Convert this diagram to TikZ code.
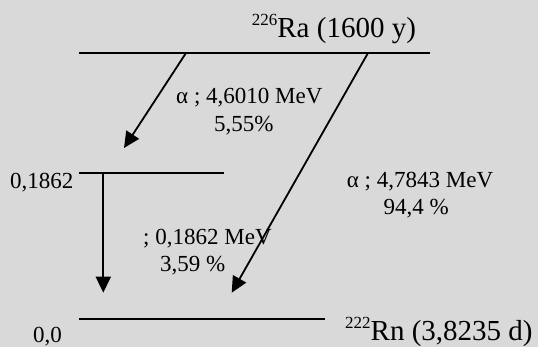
\documentclass[tikz,border=0pt]{standalone}
\usepackage{fontspec}
\setmainfont{Liberation Serif}
\usetikzlibrary{arrows.meta}
\definecolor{bglight}{HTML}{D9D9D9}
\newcommand\massno[2]{{\fontsize{#2}{#2}\selectfont\raisebox{12pt}{#1}}}
\begin{document}
\begin{tikzpicture}[x=1pt,y=-1pt,
  level/.style={line width=2pt},
  decay/.style={line width=1.8pt,-{Triangle[length=16pt,width=15pt]}},
  lbl/.style={inner sep=0pt,anchor=base west,font=\fontsize{23}{23}\selectfont},
]
\fill[bglight] (0,0) rectangle (538,347);
\useasboundingbox (0,0) rectangle (538,347);

% energy levels
\coordinate (raL) at (79,53);    \coordinate (raR) at (430,53);
\coordinate (exL) at (79,173.3); \coordinate (exR) at (224,173.3);
\coordinate (rnL) at (79,319);   \coordinate (rnR) at (325,319);
\draw[level] (raL) -- (raR);
\draw[level] (exL) -- (exR);
\draw[level] (rnL) -- (rnR);

% transitions
\coordinate (a1s) at (186,53);     \coordinate (a1e) at (124,148);
\coordinate (a2s) at (368,53);     \coordinate (a2e) at (231.7,292.7);
\coordinate (gs)  at (103.3,173.3); \coordinate (ge)  at (103.3,292.7);
\draw[decay] (a1s) -- (a1e);
\draw[decay] (a2s) -- (a2e);
\draw[decay] (gs) -- (ge);

% nuclide labels
\node[lbl] (ra) at (251.7,37.3) {\massno{226}{17}{\fontsize{29}{29}\selectfont Ra (1600 y)}};
\node[lbl] (rn) at (345,340.7) {\massno{222}{17}{\fontsize{29}{29}\selectfont Rn (3,8235 d)}};

% level energies
\node[lbl] (e1) at (10,188.3) {0,1862};
\node[lbl] (e0) at (33,342.7) {0,0};

% transition labels
\node[lbl] (a1lab) at (176,104) {α ; 4,6010 MeV};
\node[lbl] (a1pct) at (214,131.5) {5,55\%};
\node[lbl] (a2lab) at (346.7,188) {α ; 4,7843 MeV};
\node[lbl] (a2pct) at (383.3,214.3) {94,4 \%};
\node[lbl] (glab) at (143,245) {; 0,1862 MeV};
\node[lbl] (gpct) at (160,272) {3,59 \%};
\end{tikzpicture}
\end{document}
